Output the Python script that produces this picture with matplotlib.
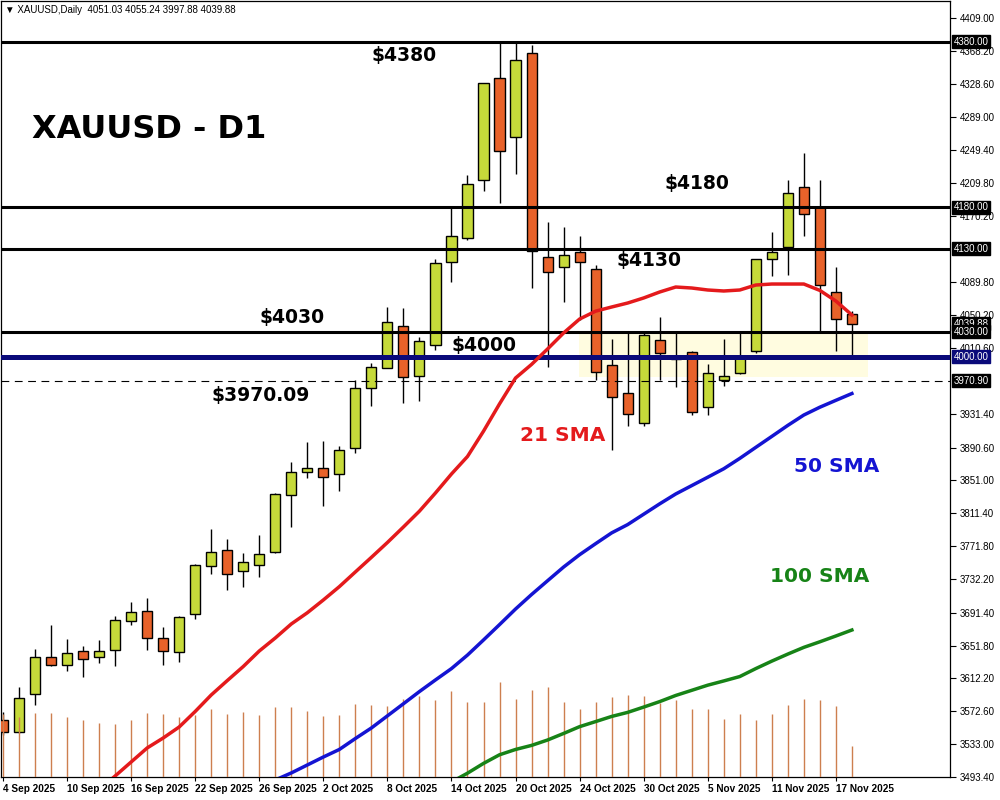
"""
XAUUSD daily candles with 21/50/100 SMA, key levels and volumes (MT4 style).
"""

import matplotlib
matplotlib.use('Agg')
import matplotlib.pyplot as plt
import numpy as np

# Daily OHLC, 4 Sep 2025 .. 18 Nov 2025
opens = [3562.1, 3547.3, 3593.1, 3637.7, 3628.1, 3645.0, 3637.7, 3646.2, 3681.1, 3693.2,
         3660.6, 3643.8, 3689.6, 3747.4, 3766.7, 3741.4, 3748.6, 3765.0, 3833.0, 3860.7,
         3865.6, 3858.3, 3889.7, 3962.0, 3986.8, 4037.1, 3977.2, 4014.2, 4113.9, 4142.8,
         4212.8, 4335.7, 4265.3, 4365.9, 4119.9, 4107.9, 4126.7, 4105.5, 3989.7, 3956.0,
         3919.8, 4019.9, 4000.1, 4005.4, 3939.1, 3972.0, 3980.1, 4007.3, 4117.5, 4132.0,
         4205.0, 4180.9, 4078.5, 4051.03]
highs = [3571.8, 3601.6, 3647.7, 3676.7, 3659.8, 3651.4, 3658.6, 3687.2, 3704.4, 3709.2,
         3674.3, 3687.2, 3750.2, 3792.0, 3780.0, 3763.1, 3785.2, 3835.8, 3872.8, 3897.6,
         3898.5, 3892.4, 3972.0, 3992.1, 4059.7, 4058.4, 4023.5, 4117.5, 4179.7, 4219.1,
         4330.0, 4378.6, 4381.0, 4375.9, 4162.5, 4156.1, 4145.6, 4110.3, 4021.1, 4028.7,
         4029.0, 4047.6, 4029.0, 4007.3, 3991.3, 4021.1, 4029.0, 4118.0, 4150.1, 4213.1,
         4245.3, 4213.1, 4108.2, 4055.24]
lows = [3544.1, 3546.5, 3580.6, 3627.6, 3621.6, 3614.3, 3631.2, 3627.6, 3676.3, 3646.9,
        3628.8, 3632.4, 3684.3, 3737.8, 3718.5, 3722.8, 3734.9, 3763.8, 3794.4, 3854.2,
        3820.1, 3838.6, 3884.4, 3940.7, 3986.1, 3944.7, 3946.7, 4008.2, 4090.5, 4140.5,
        4200.2, 4185.8, 4220.0, 4082.6, 3988.0, 4066.4, 4044.3, 3972.0, 3887.6, 3916.9,
        3916.6, 3972.0, 3963.2, 3929.5, 3929.8, 3964.8, 3978.9, 4004.9, 4097.4, 4098.6,
        4146.0, 4031.4, 4007.3, 3997.88]
closes = [3547.7, 3588.3, 3637.7, 3628.8, 3642.6, 3635.3, 3645.0, 3682.3, 3692.0, 3660.6,
          3645.0, 3686.0, 3748.6, 3764.3, 3737.8, 3752.3, 3761.9, 3834.6, 3860.7, 3865.6,
          3855.4, 3887.6, 3962.0, 3987.3, 4042.3, 3976.0, 4019.4, 4112.7, 4145.2, 4207.9,
          4329.7, 4247.7, 4357.4, 4127.5, 4101.8, 4122.3, 4113.9, 3981.3, 3951.2, 3930.7,
          4026.3, 4004.2, 3997.0, 3933.8, 3980.1, 3977.2, 3998.9, 4117.5, 4126.7, 4197.1,
          4171.8, 4086.2, 4045.2, 4039.88]
volumes = [127, 121, 129, 129, 121, 114, 109, 107, 114, 129,
           127, 120, 124, 136, 127, 130, 125, 141, 141, 133,
           122, 124, 147, 144, 142, 157, 162, 155, 173, 151,
           151, 191, 157, 174, 181, 151, 137, 151, 161, 165,
           162, 149, 155, 137, 136, 117, 127, 114, 127, 144,
           157, 154, 142, 62]

# moving averages (first visible bar index + values)
sma21_start = 6
sma21 = [3477.8, 3494.6, 3511.5, 3528.4, 3540.4, 3553.7, 3572.4, 3592.3, 3609.6, 3626.6,
         3645.3, 3661.0, 3677.9, 3691.4, 3706.8, 3722.9, 3740.6, 3758.2, 3776.1, 3794.8,
         3813.9, 3835.8, 3858.7, 3879.8, 3910.3, 3943.2, 3974.4, 3990.8, 4009.4, 4028.7,
         4045.5, 4055.0, 4060.0, 4064.8, 4070.9, 4078.1, 4084.1, 4082.9, 4080.5, 4079.3,
         4080.5, 4086.5, 4087.7, 4087.7, 4087.7, 4080.0, 4067.2, 4050.4]
sma50_start = 16
sma50 = [3477.8, 3489.8, 3498.3, 3507.9, 3517.5, 3526.6, 3539.8, 3552.5, 3567.1, 3581.7,
         3596.4, 3610.4, 3624.1, 3640.4, 3658.6, 3677.1, 3695.9, 3713.4, 3730.0, 3746.5,
         3761.4, 3774.7, 3787.7, 3797.7, 3810.2, 3822.7, 3834.6, 3844.7, 3854.8, 3865.0,
         3877.5, 3890.8, 3904.0, 3917.3, 3929.8, 3939.2, 3947.5, 3955.7]
sma100_start = 28
sma100 = [3487.4, 3498.0, 3509.8, 3520.2, 3526.6, 3531.5, 3538.0, 3545.9, 3554.1, 3560.2,
          3566.4, 3571.3, 3577.7, 3584.3, 3591.7, 3597.9, 3604.1, 3609.2, 3614.5, 3624.1,
          3633.1, 3641.6, 3649.7, 3656.4, 3663.4, 3670.6]

date_labels = ['4 Sep 2025', '10 Sep 2025', '16 Sep 2025', '22 Sep 2025', '26 Sep 2025',
               '2 Oct 2025', '8 Oct 2025', '14 Oct 2025', '20 Oct 2025', '24 Oct 2025',
               '30 Oct 2025', '5 Nov 2025', '11 Nov 2025', '17 Nov 2025']
price_ticks = [4409.00, 4368.20, 4328.60, 4289.00, 4249.40, 4209.80, 4170.20, 4089.80,
               4050.20, 4010.60, 3931.40, 3890.60, 3851.00, 3811.40, 3771.80, 3732.20,
               3691.40, 3651.80, 3612.20, 3572.60, 3533.00, 3493.40]

# horizontal levels
level_lines = [4380, 4180, 4130, 4030]
support_level = 4000
dashed_level = 3970.90
zone_start, zone_end, zone_low, zone_high = 35.95, 54.0, 3975.5, 4030

GREEN = '#c6da3a'
ORANGE = '#e8622a'
AXFONT = ['Liberation Sans', 'DejaVu Sans']

o = np.array(opens); h = np.array(highs); l = np.array(lows); c = np.array(closes)
x = np.arange(len(o))

fig = plt.figure(figsize=(10, 8), dpi=100)
ax = fig.add_axes([0.001, 0.02875, 0.949, 0.97])
ax.set_xlim(-0.125, 59.125)
ax.set_ylim(3493.4, 4428.9)

# yellow consolidation zone
ax.fill_between([zone_start, zone_end], zone_low, zone_high, color='#fffce0', lw=0, zorder=1)

# candles
up = c >= o
ax.vlines(x, l, h, color='black', lw=1, zorder=2)
ax.bar(x, np.maximum(np.abs(c - o), 0.8), bottom=np.minimum(o, c), width=0.63,
       color=np.where(up, GREEN, ORANGE), edgecolor='black', lw=1, zorder=3)

# volumes along the bottom
VOL_TOP = 1552
ax.vlines(x, 0, np.array(volumes) / VOL_TOP, transform=ax.get_xaxis_transform(),
          color='#cd7f4f', lw=1, zorder=4)

# levels
for lvl in level_lines:
    ax.axhline(lvl, color='black', lw=2.2, zorder=5)
ax.axhline(support_level, color='#0a0a7a', lw=3.6, zorder=5)
ax.axhline(dashed_level, color='black', lw=0.8, ls=(0, (7, 5)), zorder=5)

# SMAs
ax.plot(np.arange(sma21_start, sma21_start + len(sma21)), sma21, color='#e41a1c', lw=2.5, zorder=6)
ax.plot(np.arange(sma50_start, sma50_start + len(sma50)), sma50, color='#1414d2', lw=2.5, zorder=6)
ax.plot(np.arange(sma100_start, sma100_start + len(sma100)), sma100, color='#178317', lw=2.5, zorder=6)

# annotations
bold = dict(fontweight='bold', family='DejaVu Sans', va='center', ha='left', zorder=8)
ax.text(1.81, 4273.4, 'XAUUSD - D1', fontsize=23, color='black', **bold)
ax.text(23.0, 4362.6, '$4380', fontsize=13.5, color='black', **bold)
ax.text(41.3, 4208.3, '$4180', fontsize=13.5, color='black', **bold)
ax.text(38.3, 4115.5, '$4130', fontsize=13.5, color='black', **bold)
ax.text(16.0, 4046.8, '$4030', fontsize=13.5, color='black', **bold)
ax.text(28.0, 4013.0, '$4000', fontsize=13.5, color='black', **bold)
ax.text(13.0, 3953.9, '$3970.09', fontsize=13.5, color='black', **bold)
ax.text(32.25, 3904.5, '21 SMA', fontsize=14.5, color='#e41a1c', **bold)
ax.text(49.4, 3868.3, '50 SMA', fontsize=14.5, color='#1414d2', **bold)
ax.text(47.9, 3735.7, '100 SMA', fontsize=14.5, color='#178317', **bold)

ax.text(0.004, 0.988, '\u25bc XAUUSD,Daily  4051.03 4055.24 3997.88 4039.88',
        transform=ax.transAxes, fontsize=7, va='center', ha='left', family=AXFONT)

# price axis on the right
ax.yaxis.tick_right()
ax.set_yticks(price_ticks)
ax.set_yticklabels([f'{v:.2f}' for v in price_ticks], fontsize=7, family=AXFONT)
ax.tick_params(axis='y', length=4, width=0.8, pad=3)

ax.set_xticks(x[::4])
ax.set_xticklabels(date_labels, ha='left', fontsize=7.2, family=AXFONT, fontweight='bold')
ax.tick_params(axis='x', length=3, width=0.8, pad=2)

for s in ax.spines.values():
    s.set_linewidth(0.9)
    s.set_color('black')


def price_box(price, text, bg):
    ax.text(1.004, price, text, transform=ax.get_yaxis_transform(), fontsize=7,
            family=AXFONT, color='white', va='center', ha='left', clip_on=False, zorder=10,
            bbox=dict(boxstyle='square,pad=0.15', fc=bg, ec=bg))


price_box(4380, '4380.00', 'black')
price_box(4180, '4180.00', 'black')
price_box(4130, '4130.00', 'black')
price_box(closes[-1], f'{closes[-1]:.2f}', 'black')
price_box(4030, '4030.00', 'black')
price_box(support_level, '4000.00', '#0a0a7a')
price_box(dashed_level, '3970.90', 'black')

fig.savefig('out.png', dpi=100, facecolor='white')
